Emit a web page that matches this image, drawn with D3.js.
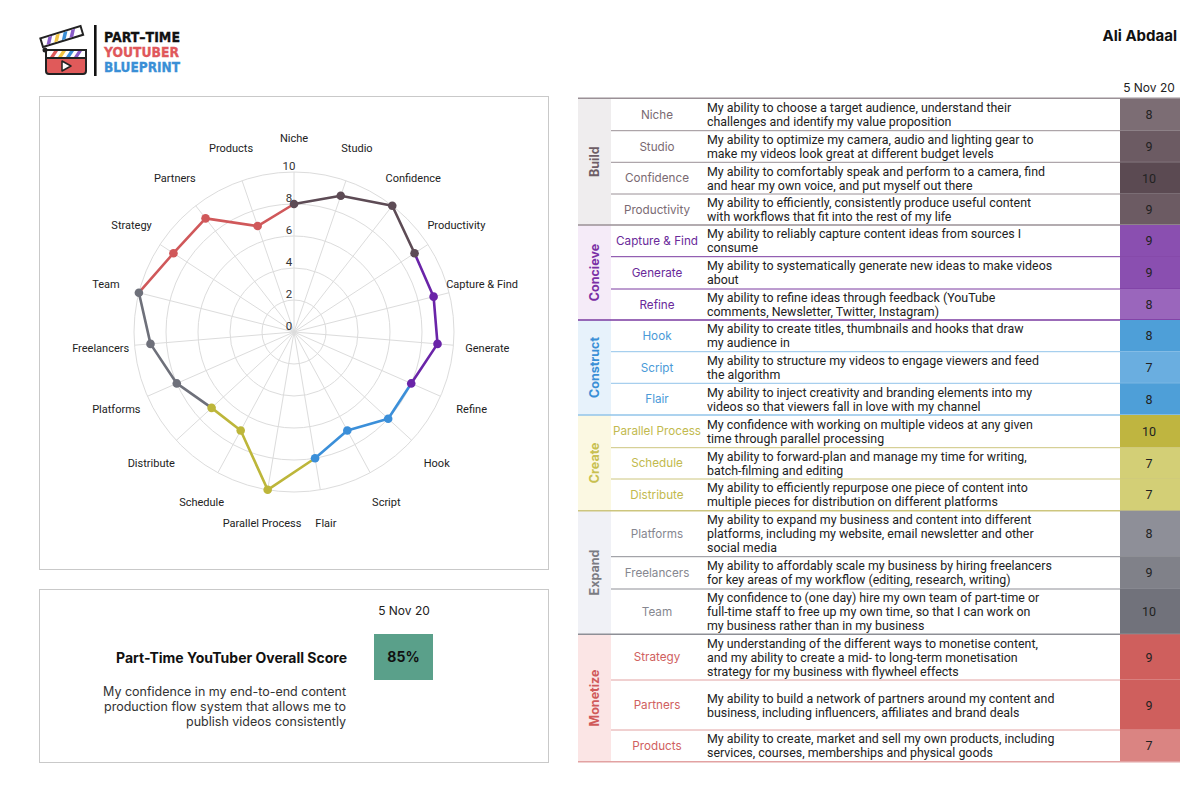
<!DOCTYPE html>
<html><head><meta charset="utf-8">
<script src="https://cdn.jsdelivr.net/npm/d3@7"></script>
<style>body{margin:0;background:#fff}svg{display:block}</style>
</head><body><script>
// ---------------- DATA ----------------
const groups = ["Build","Concieve","Construct","Create","Expand","Monetize"];
const skills = ["Niche","Studio","Confidence","Productivity","Capture & Find","Generate","Refine","Hook","Script","Flair","Parallel Process","Schedule","Distribute","Platforms","Freelancers","Team","Strategy","Partners","Products"];
const skillGroup = [0,0,0,0,1,1,1,2,2,2,3,3,3,4,4,4,5,5,5];
const scores = [8,9,10,9,9,9,8,8,7,8,10,7,7,8,9,10,9,9,7];
const descriptions = [
 "My ability to choose a target audience, understand their\nchallenges and identify my value proposition",
 "My ability to optimize my camera, audio and lighting gear to\nmake my videos look great at different budget levels",
 "My ability to comfortably speak and perform to a camera, find\nand hear my own voice, and put myself out there",
 "My ability to efficiently, consistently produce useful content\nwith workflows that fit into the rest of my life",
 "My ability to reliably capture content ideas from sources I\nconsume",
 "My ability to systematically generate new ideas to make videos\nabout",
 "My ability to refine ideas through feedback (YouTube\ncomments, Newsletter, Twitter, Instagram)",
 "My ability to create titles, thumbnails and hooks that draw\nmy audience in",
 "My ability to structure my videos to engage viewers and feed\nthe algorithm",
 "My ability to inject creativity and branding elements into my\nvideos so that viewers fall in love with my channel",
 "My confidence with working on multiple videos at any given\ntime through parallel processing",
 "My ability to forward-plan and manage my time for writing,\nbatch-filming and editing",
 "My ability to efficiently repurpose one piece of content into\nmultiple pieces for distribution on different platforms",
 "My ability to expand my business and content into different\nplatforms, including my website, email newsletter and other\nsocial media",
 "My ability to affordably scale my business by hiring freelancers\nfor key areas of my workflow (editing, research, writing)",
 "My confidence to (one day) hire my own team of part-time or\nfull-time staff to free up my own time, so that I can work on\nmy business rather than in my business",
 "My understanding of the different ways to monetise content,\nand my ability to create a mid- to long-term monetisation\nstrategy for my business with flywheel effects",
 "My ability to build a network of partners around my content and\nbusiness, including influencers, affiliates and brand deals",
 "My ability to create, market and sell my own products, including\nservices, courses, memberships and physical goods"
];
const ringTicks = [0,2,4,6,8,10];
const dateLabel = "5 Nov 20";
const overallScore = 85;
const overallTitle = "Part-Time YouTuber Overall Score";
const overallDesc = ["My confidence in my end-to-end content","production flow system that allows me to","publish videos consistently"];
const userName = "Ali Abdaal";
const logoLines = ["PART\u2013TIME","YOUTUBER","BLUEPRINT"];

// ---------------- STYLE / LAYOUT ----------------
const lineColors = ["#5d4b55","#6a24a8","#3b8fd9","#bdb63a","#6e707a","#d0585a"];
const textColors = ["#7a6a72","#6a2a9a","#4a9ad8","#c2ba4e","#868790","#d06060"];
const labelColors = ["#6e5e66","#7a2fa5","#3a8fd6","#c8c050","#7a7b82","#d05a5a"];
const groupBg = ["#efedee","#f5ebf8","#e7f2fb","#fbf8e2","#f0f1f6","#fbe5e5"];
const innerLine = ["#9a9096","#7a3aa0","#92c4ea","#cdc67e","#8e8f96","#e2a2a2"];
const scoreLight = ["#8d7e85","#aa7dc8","#6aaee0","#d3cf76","#9d9ea6","#da8482"];
const scoreDark = ["#5b4a52","#7a38a4","#1681c8","#bfb540","#71727b","#ca4c4a"];
const rowHeights = [32.4,31.6,31.7,31,31.7,32.3,31,31.7,31.6,31.7,32.7,31.3,31.7,46,32.3,45.3,45.7,50,31.7];

const W=1200,H=792;
const svg=d3.select("body").append("svg").attr("width",W).attr("height",H);
const INTER="Inter, 'Noto Sans', sans-serif";
const ROBOTO="Roboto, 'Noto Sans', sans-serif";

// ---------------- LOGO ----------------
const logo=svg.append("g");
logo.append("rect").attr("x",46).attr("y",50).attr("width",40).attr("height",24).attr("rx",3)
  .attr("fill","#e05a5a").attr("stroke","#222").attr("stroke-width",2);
const band=logo.append("g");
band.append("rect").attr("x",46).attr("y",50).attr("width",40).attr("height",8).attr("fill","#fff").attr("stroke","#222").attr("stroke-width",2);
[["#e05a5a",50],["#f2c443",58],["#3a8fd6",66],["#8a5cc8",74]].forEach(([c,x])=>{
  band.append("path").attr("d",`M${x},57 L${x+4},51 L${x+8},51 L${x+4},57 Z`).attr("fill",c);
});
const clapTop=logo.append("g").attr("transform","translate(43,47) rotate(-17)");
clapTop.append("rect").attr("x",0).attr("y",-9).attr("width",42).attr("height",9).attr("fill","#fff").attr("stroke","#222").attr("stroke-width",2);
[["#8a5cc8",4],["#f2c443",12],["#3a8fd6",20],["#8a5cc8",28]].forEach(([c,x])=>{
  clapTop.append("path").attr("d",`M${x},-1 L${x+4},-8 L${x+8},-8 L${x+4},-1 Z`).attr("fill",c);
});
logo.append("circle").attr("cx",45).attr("cy",50).attr("r",2.5).attr("fill","#222");
logo.append("path").attr("d","M62,61 L62,71 L71,66 Z").attr("fill","#fff").attr("stroke","#222").attr("stroke-width",1.5).attr("stroke-linejoin","round");
logo.append("rect").attr("x",94).attr("y",25).attr("width",2.6).attr("height",51).attr("fill","#111");
const logoCols=["#111","#e0575b","#3a8fd6"];
logoLines.forEach((t,i)=>{
  logo.append("text").attr("x",104).attr("y",42+i*15).text(t)
   .attr("font-family","'DejaVu Sans Condensed','DejaVu Sans',sans-serif").attr("font-weight","bold")
   .attr("font-size",13.8).attr("fill",logoCols[i]).attr("stroke",logoCols[i]).attr("stroke-width",0.3)
   .attr("textLength",i==1?75:76).attr("lengthAdjust","spacingAndGlyphs");
});
svg.append("text").attr("x",1177).attr("y",41).attr("text-anchor","end").text(userName)
  .attr("font-family",INTER).attr("font-weight","bold").attr("font-size",15).attr("fill","#111");

// ---------------- RADAR ----------------
svg.append("rect").attr("x",39.5).attr("y",96.5).attr("width",509).attr("height",473)
  .attr("fill","none").attr("stroke","#c9c9c9");
const cx=294, cy=332;
const n=skills.length;
const r=d3.scaleLinear().domain([0,10]).range([0,160]);
const ang=i=>i*2*Math.PI/n;
const px=(i,v)=>cx+r(v)*Math.sin(ang(i));
const py=(i,v)=>cy-r(v)*Math.cos(ang(i));
const grid=svg.append("g");
ringTicks.filter(t=>t>0).forEach(t=>{
  grid.append("circle").attr("cx",cx).attr("cy",cy).attr("r",r(t)).attr("fill","none").attr("stroke","#dcdcdc").attr("stroke-width",1);
});
skills.forEach((s,i)=>{
  grid.append("line").attr("x1",cx).attr("y1",cy).attr("x2",px(i,10)).attr("y2",py(i,10)).attr("stroke","#dcdcdc").attr("stroke-width",1);
});
ringTicks.forEach(t=>{
  svg.append("text").attr("x",cx-5).attr("y",cy-r(t)-2).attr("text-anchor","middle").text(t)
   .attr("font-family",ROBOTO).attr("font-size",11.5).attr("fill","#333");
});
skills.forEach((s,i)=>{
  const lr=194/160*10;
  svg.append("text").attr("x",px(i,lr)).attr("y",py(i,lr)).attr("text-anchor","middle").attr("dominant-baseline","central")
   .text(s).attr("font-family",ROBOTO).attr("font-size",11).attr("fill","#222");
});
const lines=svg.append("g");
skills.forEach((s,i)=>{
  const j=(i+1)%n;
  const g = j===0 ? skillGroup[i] : skillGroup[j];
  lines.append("line").attr("x1",px(i,scores[i])).attr("y1",py(i,scores[i]))
   .attr("x2",px(j,scores[j])).attr("y2",py(j,scores[j]))
   .attr("stroke",lineColors[g]).attr("stroke-width",2.6).attr("stroke-linecap","round");
});
skills.forEach((s,i)=>{
  lines.append("circle").attr("cx",px(i,scores[i])).attr("cy",py(i,scores[i])).attr("r",4.3).attr("fill",lineColors[skillGroup[i]]);
});

// ---------------- OVERALL SCORE BOX ----------------
svg.append("rect").attr("x",39.5).attr("y",589.5).attr("width",509).attr("height",173)
  .attr("fill","none").attr("stroke","#c9c9c9");
svg.append("text").attr("x",404).attr("y",615).attr("text-anchor","middle").text(dateLabel)
  .attr("font-family",INTER).attr("font-size",12).attr("fill","#222");
svg.append("rect").attr("x",374).attr("y",634).attr("width",59).attr("height",46).attr("fill","#5aa08a");
svg.append("text").attr("x",403.5).attr("y",662).attr("text-anchor","middle").text(overallScore+"%")
  .attr("font-family",INTER).attr("font-weight","bold").attr("font-size",14).attr("fill","#111");
svg.append("text").attr("x",347).attr("y",663).attr("text-anchor","end").text(overallTitle)
  .attr("font-family",INTER).attr("font-weight","bold").attr("font-size",14).attr("fill","#111");
overallDesc.forEach((t,i)=>{
  svg.append("text").attr("x",346).attr("y",695.5+i*15).attr("text-anchor","end").text(t)
   .attr("font-family",INTER).attr("font-size",12.5).attr("fill","#333");
});

// ---------------- TABLE ----------------
const T0=98.3, xL=578, xG=611, xD=707, xS=1120, xR=1180;
const rowTop=[T0, ...d3.cumsum(rowHeights).map(v=>T0+v)];
svg.append("text").attr("x",1149).attr("y",92).attr("text-anchor","middle").text(dateLabel)
  .attr("font-family",INTER).attr("font-size",12).attr("fill","#222");
const tbl=svg.append("g");
const scoreColor=skillGroup.map(g=>d3.scaleLinear().domain([7,10]).range([scoreLight[g],scoreDark[g]]).interpolate(d3.interpolateRgb));
groups.forEach((gname,g)=>{
  const idx=skillGroup.map((v,i)=>v===g?i:-1).filter(i=>i>=0);
  const y0=rowTop[idx[0]], y1=rowTop[idx[idx.length-1]+1];
  tbl.append("rect").attr("x",xL).attr("y",y0).attr("width",xG-xL).attr("height",y1-y0).attr("fill",groupBg[g]);
  tbl.append("text").attr("transform",`translate(${(xL+xG)/2+4.5},${(y0+y1)/2}) rotate(-90)`)
   .attr("text-anchor","middle").text(gname)
   .attr("font-family",INTER).attr("font-weight","bold").attr("font-size",12.5).attr("fill",labelColors[g]);
});
skills.forEach((s,i)=>{
  const g=skillGroup[i], y0=rowTop[i], y1=rowTop[i+1], ym=(y0+y1)/2;
  tbl.append("rect").attr("x",xS).attr("y",y0).attr("width",xR-xS).attr("height",y1-y0).attr("fill",scoreColor[i](scores[i]));
  tbl.append("text").attr("x",(xS+xR)/2-1).attr("y",ym).attr("dominant-baseline","central").attr("text-anchor","middle")
   .text(scores[i]).attr("font-family",ROBOTO).attr("font-size",12.5).attr("fill","#222");
  tbl.append("text").attr("x",657).attr("y",ym).attr("dominant-baseline","central").attr("text-anchor","middle")
   .text(s).attr("font-family",INTER).attr("font-size",11.7).attr("fill",textColors[g]);
  const dl=descriptions[i].split("\n");
  dl.forEach((t,k)=>{
    tbl.append("text").attr("x",xD).attr("y",ym+(k-(dl.length-1)/2)*14).attr("dominant-baseline","central")
     .text(t).attr("font-family",ROBOTO).attr("font-size",12.4).attr("fill","#222");
  });
  const last = i===n-1 || skillGroup[i+1]!==g;
  if(!last){
    tbl.append("line").attr("x1",xG).attr("x2",xR).attr("y1",y1).attr("y2",y1).attr("stroke",innerLine[g]).attr("stroke-width",1);
  } else {
    tbl.append("line").attr("x1",xL).attr("x2",xR).attr("y1",y1).attr("y2",y1).attr("stroke",innerLine[g]).attr("stroke-width",1.6);
  }
});
tbl.append("line").attr("x1",xL).attr("x2",xR).attr("y1",T0).attr("y2",T0).attr("stroke","#9a9096").attr("stroke-width",1.6);
</script></body></html>
